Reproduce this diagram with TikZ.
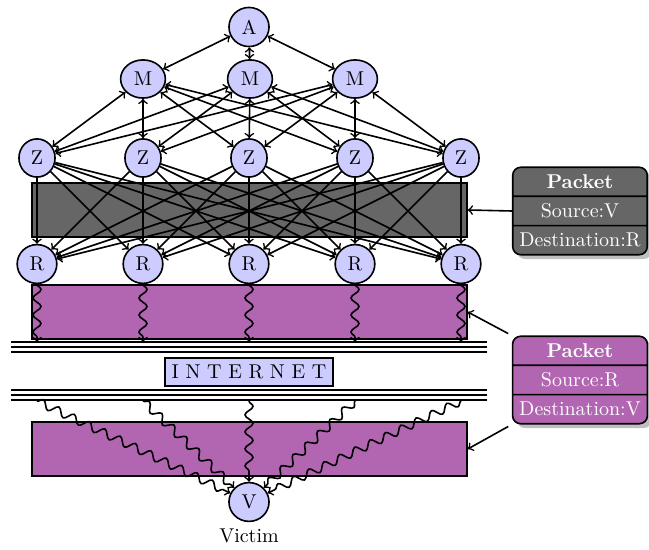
\documentclass[tikz,border=0pt]{standalone}
\usetikzlibrary{shapes.geometric,shapes.multipart,shadows,decorations.pathmorphing}

\begin{document}
\begin{tikzpicture}[x=0.5pt,y=-0.5pt,
  host/.style={ellipse,draw,thick,fill=blue!20,inner sep=0.333em},
  band/.style={rectangle,draw,thick,minimum width=217.5pt,minimum height=27pt},
  packet/.style={rectangle split,rectangle split parts=3,draw,thick,
    rounded corners=4pt,text=white,drop shadow},
  link/.style={thick,->},
  dlink/.style={thick,<->},
  wave/.style={thick,->,decorate,
    decoration={snake,amplitude=2pt,segment length=8.5pt,post length=2pt}},
  wire/.style={line width=1pt}]
\useasboundingbox (0,0) rectangle (649,550);

% traffic bands
\node[band,fill=black!60] (gband) at (249.5,210) {};
\node[band,fill=violet!60] (pband) at (249.5,312) {};
\node[band,fill=violet!60] (vband) at (249.5,449) {};

% attacker, masters, zombies, reflectors, victim
\node[host] (a) at (249,27) {A};
\foreach \x [count=\i] in {143,250,355}
  \node[host] (m\i) at (\x,79) {M};
\foreach \x [count=\i] in {37,143,249,355,461}{
  \node[host] (z\i) at (\x,158) {Z};
  \node[host] (r\i) at (\x,264) {R};
  \coordinate (t\i) at (\x,342);
  \coordinate (b\i) at (\x,401);
}
\node[host] (v) at (249,502) {V};
\node[below] (vl) at (v.south) {Victim};

% control links
\foreach \i in {1,2,3}{
  \draw[dlink] (a) -- (m\i);
  \foreach \j in {1,...,5}
    \draw[dlink] (m\i) -- (z\j);
}
\foreach \i in {1,...,5}
  \foreach \j in {1,...,5}
    \draw[link] (z\i) -- (r\j);

% reflected traffic
\foreach \i in {1,...,5}{
  \draw[wave] (r\i) -- (t\i);
  \draw[wave] (b\i) -- (v);
}

% the internet
\foreach \y in {342.5,347.5,352.5,390.5,395.5,400.5}
  \draw[wire] (11,\y) -- (487,\y);
\node[draw,thick,fill=blue!20] (net) at (249,372) {I N T E R N E T};

% packet descriptions
\node[packet,fill=black!60] (pk1) at (580,211)
  {\textbf{Packet}\nodepart{two}Source:V\nodepart{three}Destination:R};
\node[packet,fill=violet!60] (pk2) at (580,380)
  {\textbf{Packet}\nodepart{two}Source:R\nodepart{three}Destination:V};
\draw[link] (pk1.west) -- (gband.east);
\draw[link,shorten <=2pt] (pk2.north west) -- (pband.east);
\draw[link,shorten <=2pt] (pk2.south west) -- (vband.east);
\end{tikzpicture}
\end{document}
